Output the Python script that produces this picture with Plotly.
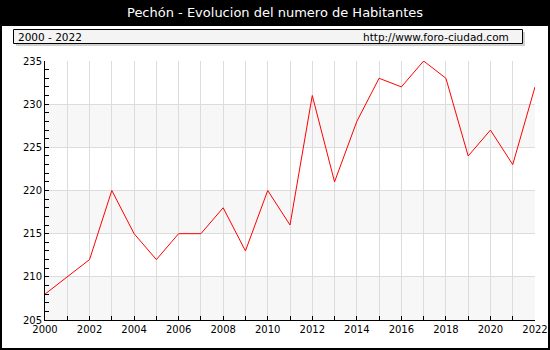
import plotly.graph_objects as go

# Population of Pechón by year
years = list(range(2000, 2023))
habitantes = [208, 210, 212, 220, 215, 212, 215, 215, 218, 213, 220, 216,
              231, 221, 228, 233, 232, 235, 233, 224, 227, 223, 232]

title_text = "Pechón - Evolucion del numero de Habitantes"
period_text = "2000 - 2022"
site_text = "http://www.foro-ciudad.com"

W, H = 550, 350
L, R, T, B = 45, 535, 61, 320


def px_x(p):
    return (p - L) / (R - L)


def px_y(p):
    return 1 - (p - T) / (B - T)


fig = go.Figure()
fig.add_trace(go.Scatter(
    x=years, y=habitantes, mode="lines",
    line=dict(color="#ff0000", width=1),
    hoverinfo="skip",
))

shapes = []
# alternating horizontal bands
for lo in (205, 215, 225):
    shapes.append(dict(type="rect", xref="paper", yref="y", x0=0, x1=1,
                       y0=lo, y1=lo + 5, fillcolor="#f7f7f7",
                       line=dict(width=0), layer="below"))
# black title bar and outer frame
shapes.append(dict(type="rect", xref="paper", yref="paper",
                   x0=px_x(0), x1=px_x(W), y0=px_y(26), y1=px_y(0),
                   fillcolor="black", line=dict(width=0), layer="below"))
shapes.append(dict(type="rect", xref="paper", yref="paper",
                   x0=px_x(0), x1=px_x(2), y0=px_y(H), y1=px_y(0),
                   fillcolor="black", line=dict(width=0), layer="below"))
shapes.append(dict(type="rect", xref="paper", yref="paper",
                   x0=px_x(W - 2), x1=px_x(W), y0=px_y(H), y1=px_y(0),
                   fillcolor="black", line=dict(width=0), layer="below"))
shapes.append(dict(type="rect", xref="paper", yref="paper",
                   x0=px_x(0), x1=px_x(W), y0=px_y(H), y1=px_y(H - 2),
                   fillcolor="black", line=dict(width=0), layer="below"))
# info box with shadow
shapes.append(dict(type="rect", xref="paper", yref="paper",
                   x0=px_x(16), x1=px_x(525), y0=px_y(46), y1=px_y(32),
                   fillcolor="#d0d0d0", line=dict(width=0), layer="below"))
shapes.append(dict(type="rect", xref="paper", yref="paper",
                   x0=px_x(13.5), x1=px_x(522.5), y0=px_y(43.5), y1=px_y(29.5),
                   fillcolor="#f4f4f4", line=dict(color="black", width=1),
                   layer="below"))

annotations = [
    dict(text=title_text, xref="paper", yref="paper", x=px_x(275), y=px_y(13),
         xanchor="center", yanchor="middle", showarrow=False,
         font=dict(family="DejaVu Sans", size=13, color="white")),
    dict(text=period_text, xref="paper", yref="paper", x=px_x(16), y=px_y(36.5),
         xanchor="left", yanchor="middle", showarrow=False,
         font=dict(family="DejaVu Sans", size=10.5, color="black")),
    dict(text=site_text, xref="paper", yref="paper", x=px_x(511), y=px_y(36.5),
         xanchor="right", yanchor="middle", showarrow=False,
         font=dict(family="DejaVu Sans", size=10.5, color="black")),
]

fig.update_layout(
    width=W, height=H, autosize=False,
    margin=dict(l=L, r=W - R, t=T, b=H - B, pad=0, autoexpand=False),
    paper_bgcolor="white", plot_bgcolor="white",
    showlegend=False,
    shapes=shapes, annotations=annotations,
    font=dict(family="DejaVu Sans", size=10, color="black"),
)
fig.update_xaxes(
    range=[2000, 2022], tickmode="linear", tick0=2000, dtick=2,
    ticks="inside", ticklen=4, tickcolor="black",
    showgrid=True, gridcolor="#dcdcdc", gridwidth=1,
    showline=True, linecolor="black", linewidth=1, mirror=False,
    zeroline=False, fixedrange=True, automargin=False,
    minor=dict(dtick=1, tick0=2000, ticks="inside", ticklen=4,
               tickcolor="black", showgrid=True, gridcolor="#dcdcdc"),
    tickfont=dict(family="DejaVu Sans", size=10, color="black"),
)
fig.update_yaxes(
    range=[205, 235], tickmode="linear", tick0=205, dtick=5,
    ticks="inside", ticklen=4, tickcolor="black",
    showgrid=True, gridcolor="#dcdcdc", gridwidth=1,
    showline=True, linecolor="black", linewidth=1,
    zeroline=False, fixedrange=True, automargin=False,
    minor=dict(dtick=1, tick0=205, ticks="inside", ticklen=4,
               tickcolor="black", showgrid=False),
    tickfont=dict(family="DejaVu Sans", size=10, color="black"),
)

fig.write_html("out.html", config=dict(displayModeBar=False, responsive=False))
